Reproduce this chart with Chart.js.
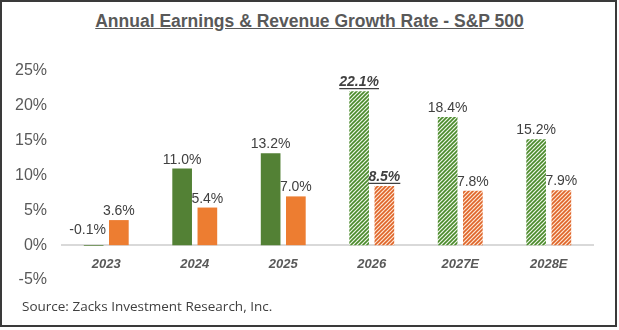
<!DOCTYPE html>
<html>
<head>
<meta charset="utf-8">
<script src="https://cdn.jsdelivr.net/npm/chart.js@4.4.1/dist/chart.umd.min.js"></script>
<style>
  body { margin: 0; background: #fff; }
  #wrap { position: relative; width: 619px; height: 330px; overflow: hidden; }
  #frame { position: absolute; left: 0; top: 0; width: 613px; height: 323px; border: 2px solid #3a3a3a; }
  #title { position: absolute; left: 0; width: 619px; top: 11px; text-align: center;
           font: bold 17.5px "Liberation Sans", Arial, sans-serif; color: #595959; text-decoration: underline; }
  #source { position: absolute; left: 22px; top: 297px; font: 13.5px "Open Sans", sans-serif; color: #404040; }
  canvas { position: absolute; left: 0; top: 0; }
</style>
</head>
<body>
<div id="wrap">
  <div id="frame"></div>
  <div id="title">Annual Earnings &amp; Revenue Growth Rate - S&amp;P 500</div>
  <canvas id="growthChart" width="619" height="330"></canvas>
  <div id="source">Source: Zacks Investment Research, Inc.</div>
</div>
<script>
var categories = ['2023', '2024', '2025', '2026', '2027E', '2028E'];
var earningsGrowth = [-0.1, 11.0, 13.2, 22.1, 18.4, 15.2];
var revenueGrowth = [3.6, 5.4, 7.0, 8.5, 7.8, 7.9];
var yTicks = [-5, 0, 5, 10, 15, 20, 25];

var firstEstimate = 3;   // hatched bars from here on
var highlighted = 3;     // bold italic underlined labels

function makeHatch(fg, bg) {
    var s = 4;
    var c = document.createElement('canvas');
    c.width = s; c.height = s;
    var g = c.getContext('2d');
    g.fillStyle = bg;
    g.fillRect(0, 0, s, s);
    g.strokeStyle = fg;
    g.lineWidth = 1.6;
    g.beginPath();
    g.moveTo(0, s); g.lineTo(s, 0);
    g.moveTo(-1, 1); g.lineTo(1, -1);
    g.moveTo(s - 1, s + 1); g.lineTo(s + 1, s - 1);
    g.stroke();
    return g.createPattern(c, 'repeat');
}

var greenSolid = '#538135';
var orangeSolid = '#ED7D31';
var greenHatch = makeHatch('#4a8a2b', '#eef6e8');
var orangeHatch = makeHatch('#df6429', '#fde6d3');

function fills(solid, hatch) {
    return categories.map(function (c, i) { return i >= firstEstimate ? hatch : solid; });
}

var barLabels = {
    id: 'barLabels',
    afterDatasetsDraw: function (chart) {
        var ctx = chart.ctx;
        ctx.save();
        ctx.fillStyle = '#404040';
        ctx.strokeStyle = '#404040';
        ctx.textAlign = 'center';
        ctx.textBaseline = 'alphabetic';
        chart.data.datasets.forEach(function (ds, di) {
            var meta = chart.getDatasetMeta(di);
            meta.data.forEach(function (bar, i) {
                var txt = ds.data[i].toFixed(1) + '%';
                var y = Math.min(bar.y, bar.base) - 5;
                var x = bar.x;
                if (ds.data[i] < 0) { y -= 6; x -= 6; }
                if (i === highlighted) {
                    ctx.font = 'italic bold 14px "Liberation Sans", Arial, sans-serif';
                    ctx.fillText(txt, x, y);
                    var w = ctx.measureText(txt).width;
                    ctx.lineWidth = 1.3;
                    ctx.beginPath();
                    ctx.moveTo(x - w / 2, y + 2.5);
                    ctx.lineTo(x + w / 2, y + 2.5);
                    ctx.stroke();
                } else {
                    ctx.font = '14px "Liberation Sans", Arial, sans-serif';
                    ctx.fillText(txt, x, y);
                }
            });
        });
        ctx.restore();
    }
};

var chart = new Chart(document.getElementById('growthChart').getContext('2d'), {
    type: 'bar',
    data: {
        labels: categories,
        datasets: [{
            label: 'Earnings',
            data: earningsGrowth,
            backgroundColor: fills(greenSolid, greenHatch),
            categoryPercentage: 0.57,
            barPercentage: 0.78
        }, {
            label: 'Revenue',
            data: revenueGrowth,
            backgroundColor: fills(orangeSolid, orangeHatch),
            categoryPercentage: 0.57,
            barPercentage: 0.78
        }]
    },
    options: {
        responsive: false,
        animation: false,
        devicePixelRatio: 1,
        layout: { padding: { left: 12, right: 26, top: 71, bottom: 50 } },
        plugins: {
            legend: { display: false },
            tooltip: { enabled: false }
        },
        scales: {
            x: {
                position: { y: 0 },
                grid: { display: false, drawTicks: false },
                border: { display: true, color: '#d9d9d9', width: 2 },
                ticks: {
                    padding: 11,
                    color: '#595959',
                    font: { family: '"Liberation Sans", Arial, sans-serif', size: 13, style: 'italic', weight: 'bold' }
                }
            },
            y: {
                min: yTicks[0],
                max: yTicks[yTicks.length - 1],
                afterFit: function (scale) { scale.width = 50; },
                afterBuildTicks: function (scale) {
                    scale.ticks = yTicks.map(function (v) { return { value: v }; });
                },
                grid: { display: false, drawTicks: false },
                border: { display: false },
                ticks: {
                    padding: 15,
                    color: '#595959',
                    font: { family: '"Liberation Sans", Arial, sans-serif', size: 16 },
                    callback: function (v) { return v + '%'; }
                }
            }
        }
    },
    plugins: [barLabels]
});
</script>
</body>
</html>
